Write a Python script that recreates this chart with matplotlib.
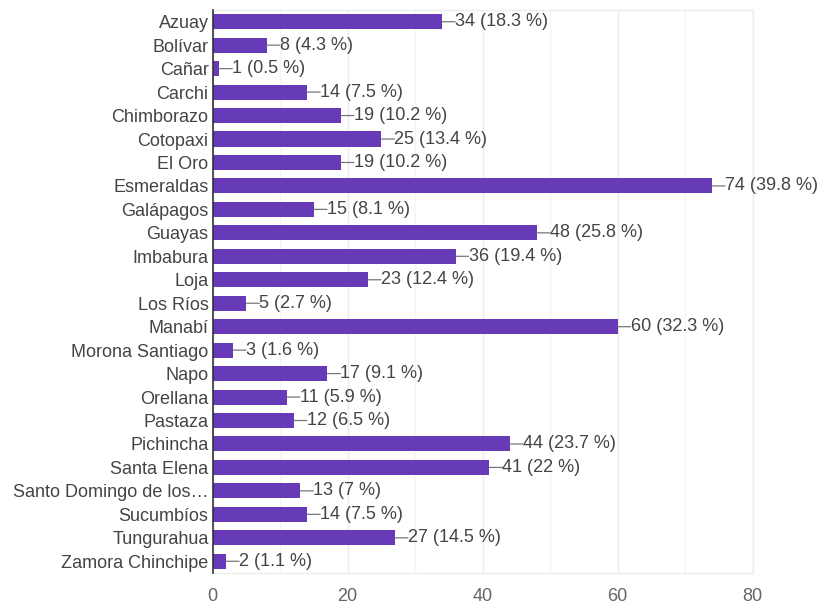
import matplotlib
matplotlib.use("Agg")
import matplotlib.pyplot as plt
from matplotlib.ticker import MultipleLocator

plt.rcParams['font.family'] = ['Liberation Sans', 'DejaVu Sans']

provinces = [
    "Azuay", "Bolívar", "Cañar", "Carchi", "Chimborazo", "Cotopaxi", "El Oro",
    "Esmeraldas", "Galápagos", "Guayas", "Imbabura", "Loja", "Los Ríos",
    "Manabí", "Morona Santiago", "Napo", "Orellana", "Pastaza", "Pichincha",
    "Santa Elena", "Santo Domingo de los…", "Sucumbíos", "Tungurahua",
    "Zamora Chinchipe",
]
counts = [34, 8, 1, 14, 19, 25, 19, 74, 15, 48, 36, 23, 5, 60, 3, 17, 11, 12,
          44, 41, 13, 14, 27, 2]
percents = ["18.3", "4.3", "0.5", "7.5", "10.2", "13.4", "10.2", "39.8", "8.1",
            "25.8", "19.4", "12.4", "2.7", "32.3", "1.6", "9.1", "5.9", "6.5",
            "23.7", "22", "7", "7.5", "14.5", "1.1"]
x_ticks = [0, 20, 40, 60, 80]

bar_color = "#673ab7"
text_color = "#444444"
fs = 13

fig = plt.figure(figsize=(8.24, 6.05), dpi=100)
ax = fig.add_axes([0.2581, 0.0529, 0.9135 - 0.2581, 0.9835 - 0.0529])

ypos = list(range(len(provinces)))
ax.barh(ypos, counts, height=0.64, color=bar_color, zorder=3)

for y, c, p in zip(ypos, counts, percents):
    ax.annotate(f"{c} ({p} %)", xy=(c, y), xytext=(13, 0),
                textcoords="offset pixels", va="center", ha="left",
                fontsize=fs, color=text_color,
                arrowprops=dict(arrowstyle="-", color="#777777", lw=0.9,
                                shrinkA=0, shrinkB=0, patchA=None,
                                relpos=(0, 0.5)),
                zorder=4)

ax.set_xlim(0, 80)
ax.set_ylim(len(provinces) - 0.5, -0.5)
ax.set_yticks(ypos)
ax.set_yticklabels(provinces, fontsize=fs, color=text_color)
ax.set_xticks(x_ticks)
ax.set_xticklabels([str(t) for t in x_ticks], fontsize=fs, color="#666666")
ax.xaxis.set_minor_locator(MultipleLocator(10))

ax.grid(axis="x", which="major", color="#ececec", lw=1, zorder=0)
ax.grid(axis="x", which="minor", color="#f4f4f4", lw=1, zorder=0)
ax.tick_params(axis="both", which="both", length=0)
ax.tick_params(axis="x", pad=11)
ax.tick_params(axis="y", pad=3)

for side in ["top", "right", "bottom"]:
    ax.spines[side].set_color("#eeeeee")
    ax.spines[side].set_linewidth(1)
ax.spines["left"].set_color("#333333")
ax.spines["left"].set_linewidth(1.2)
ax.spines["left"].set_zorder(5)

fig.savefig("out.png", dpi=100, facecolor="white")
